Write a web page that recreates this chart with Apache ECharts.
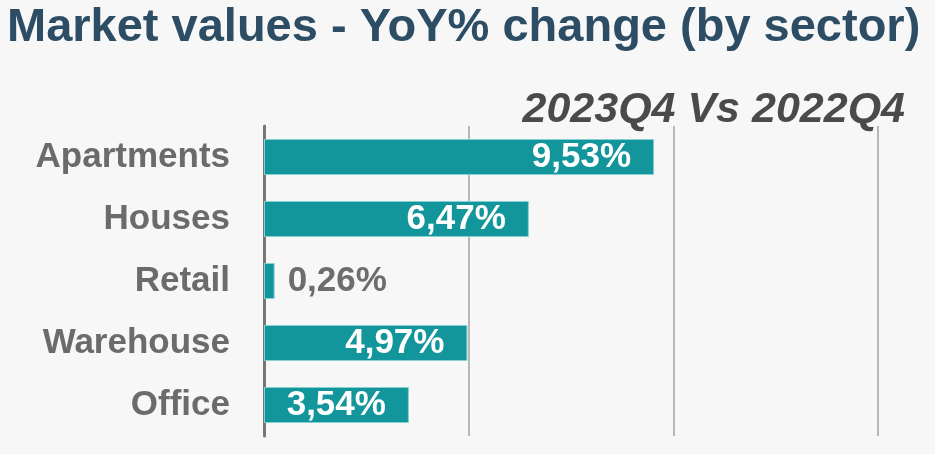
<!DOCTYPE html>
<html>
	<head>
		<meta charset="UTF-8">
		<title>Market values - YoY% change</title>
		<script src="https://cdn.jsdelivr.net/npm/echarts@6/dist/echarts.min.js"></script>
		<style>
			html, body { margin: 0; padding: 0; background: #f7f7f7; }
		</style>
	</head>
	<body>
		<div style="width:935px;height:454px" id="main"></div>
		<script>
			// sectors, top to bottom
			var sectors = ['Apartments', 'Houses', 'Retail', 'Warehouse', 'Office'];
			// YoY % change 2023Q4 vs 2022Q4
			var yoyChange = [9.53, 6.47, 0.26, 4.97, 3.54];
			var xTicks = [0, 5, 10, 15];

			var FONT = 'Liberation Sans, Arial, sans-serif';

			var myChart = echarts.init(document.getElementById('main'));

			// small bars get their label outside, in gray
			var barData = yoyChange.map(function (v) {
				var item = { value: v };
				if (v < 1) {
					item.label = { position: 'right', distance: 13, color: '#6d6d6d' };
				}
				return item;
			});

			myChart.setOption({
				backgroundColor: '#f7f7f7',
				title: [{
					text: 'Market values - YoY% change (by sector)',
					left: 2,
					top: 0,
					textStyle: { fontFamily: FONT, fontSize: 47, fontWeight: 'bold', color: '#2c4d64' }
				}, {
					text: '2023Q4 Vs 2022Q4',
					right: 25,
					top: 84,
					textStyle: { fontFamily: FONT, fontSize: 43, fontWeight: 'bold', fontStyle: 'italic', color: '#4a4a4a' }
				}],
				grid: { left: 264, right: 57, top: 126, bottom: 18 },
				xAxis: {
					type: 'value',
					min: xTicks[0],
					max: xTicks[xTicks.length - 1],
					interval: 5,
					axisLabel: { show: false },
					axisLine: { show: false },
					axisTick: { show: false },
					splitLine: { lineStyle: { color: '#b8b8b8', width: 2 } }
				},
				yAxis: {
					type: 'category',
					data: sectors,
					inverse: true,
					axisTick: { show: false },
					axisLine: { lineStyle: { color: '#777777', width: 3 } },
					axisLabel: { fontFamily: FONT, fontSize: 35, fontWeight: 'bold', color: '#6b6b6b', margin: 34 }
				},
				series: [{
					type: 'bar',
					data: barData,
					barWidth: 36,
					itemStyle: { color: '#12969b', borderColor: '#86d0d2', borderWidth: 1 },
					label: {
						show: true,
						position: 'insideRight',
						distance: 23,
						fontFamily: FONT,
						fontSize: 35,
						fontWeight: 'bold',
						color: '#ffffff',
						formatter: function (p) {
							return p.value.toFixed(2).replace('.', ',') + '%';
						}
					}
				}]
			});
		</script>
	</body>
</html>
